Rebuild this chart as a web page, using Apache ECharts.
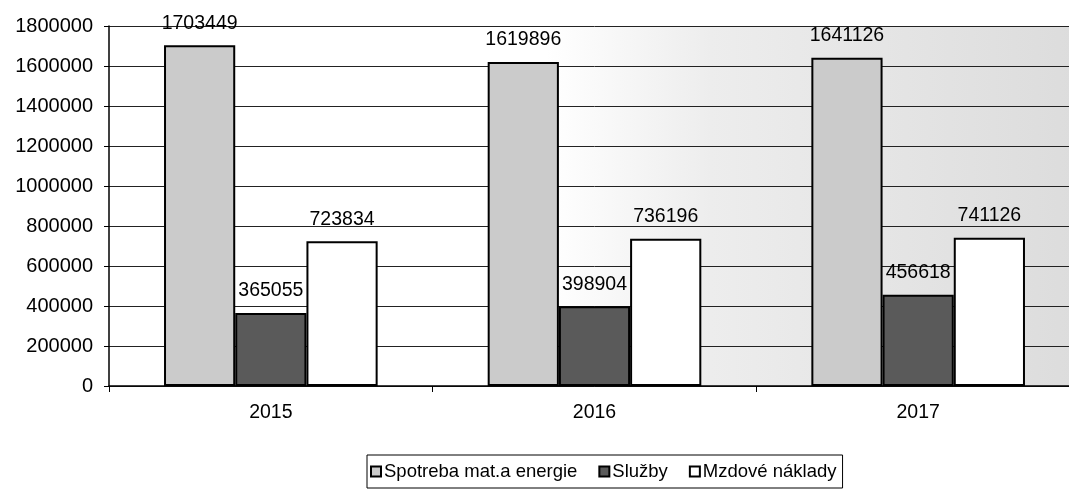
<!DOCTYPE html>
<html>
<head>
<meta charset="utf-8">
<script src="https://cdn.jsdelivr.net/npm/echarts@6/dist/echarts.min.js"></script>
<style>html,body{margin:0;padding:0;background:#fff;overflow:hidden}#c{width:1080px;height:497px}</style>
</head>
<body>
<div id="c"></div>
<script>
var categories = ['2015', '2016', '2017'];
var seriesNames = ['Spotreba mat.a energie', 'Služby', 'Mzdové náklady'];
var spotreba = [1703449, 1619896, 1641126];
var sluzby = [365055, 398904, 456618];
var mzdove = [723834, 736196, 741126];
var yTicks = [0, 200000, 400000, 600000, 800000, 1000000, 1200000, 1400000, 1600000, 1800000];

var chart = echarts.init(document.getElementById('c'));
var font = 'Liberation Sans, Arial, sans-serif';
function mk(name, data, color) {
  return {
    name: name,
    type: 'bar',
    data: data,
    barGap: '0%',
    barCategoryGap: '34%',
    itemStyle: { color: color, borderColor: '#000', borderWidth: 2 },
    label: {
      show: true, position: 'top', distance: 12,
      color: '#000', fontFamily: font, fontSize: 19.5
    }
  };
}
chart.setOption({
  animation: false,
  grid: {
    left: 109, right: 0, top: 26, bottom: 111,
    show: true, borderWidth: 0,
    backgroundColor: {
      type: 'linear', x: 0, y: 0, x2: 1, y2: 0,
      colorStops: [
        { offset: 0, color: '#ffffff' },
        { offset: 0.45, color: '#ffffff' },
        { offset: 0.62, color: '#ededed' },
        { offset: 1, color: '#dcdcdc' }
      ]
    }
  },
  legend: {
    data: seriesNames,
    left: 367, top: 455,
    borderColor: '#000', borderWidth: 1,
    padding: [7, 6, 7, 3],
    itemWidth: 10, itemHeight: 10, itemGap: 21,
    icon: 'rect',
    textStyle: { fontFamily: font, fontSize: 18.5, color: '#000', padding: [0, 0, 0, -2] }
  },
  xAxis: {
    type: 'category',
    data: categories,
    axisLine: { lineStyle: { color: '#000', width: 1.5 } },
    axisTick: { show: true, length: 6, lineStyle: { color: '#000' } },
    axisLabel: { color: '#000', fontFamily: font, fontSize: 19.5, margin: 17 }
  },
  yAxis: {
    type: 'value',
    min: yTicks[0], max: yTicks[yTicks.length - 1], interval: yTicks[1] - yTicks[0],
    axisLine: { show: true, lineStyle: { color: '#000', width: 1.5 } },
    axisTick: { show: true, length: 5, lineStyle: { color: '#000' } },
    axisLabel: { color: '#000', fontFamily: font, fontSize: 20, margin: 16,
      formatter: function (v) { return String(v); } },
    splitLine: { lineStyle: { color: '#222', width: 1 } }
  },
  series: [
    mk(seriesNames[0], spotreba, '#cbcbcb'),
    mk(seriesNames[1], sluzby, '#5a5a5a'),
    mk(seriesNames[2], mzdove, '#ffffff')
  ]
});
</script>
</body>
</html>
